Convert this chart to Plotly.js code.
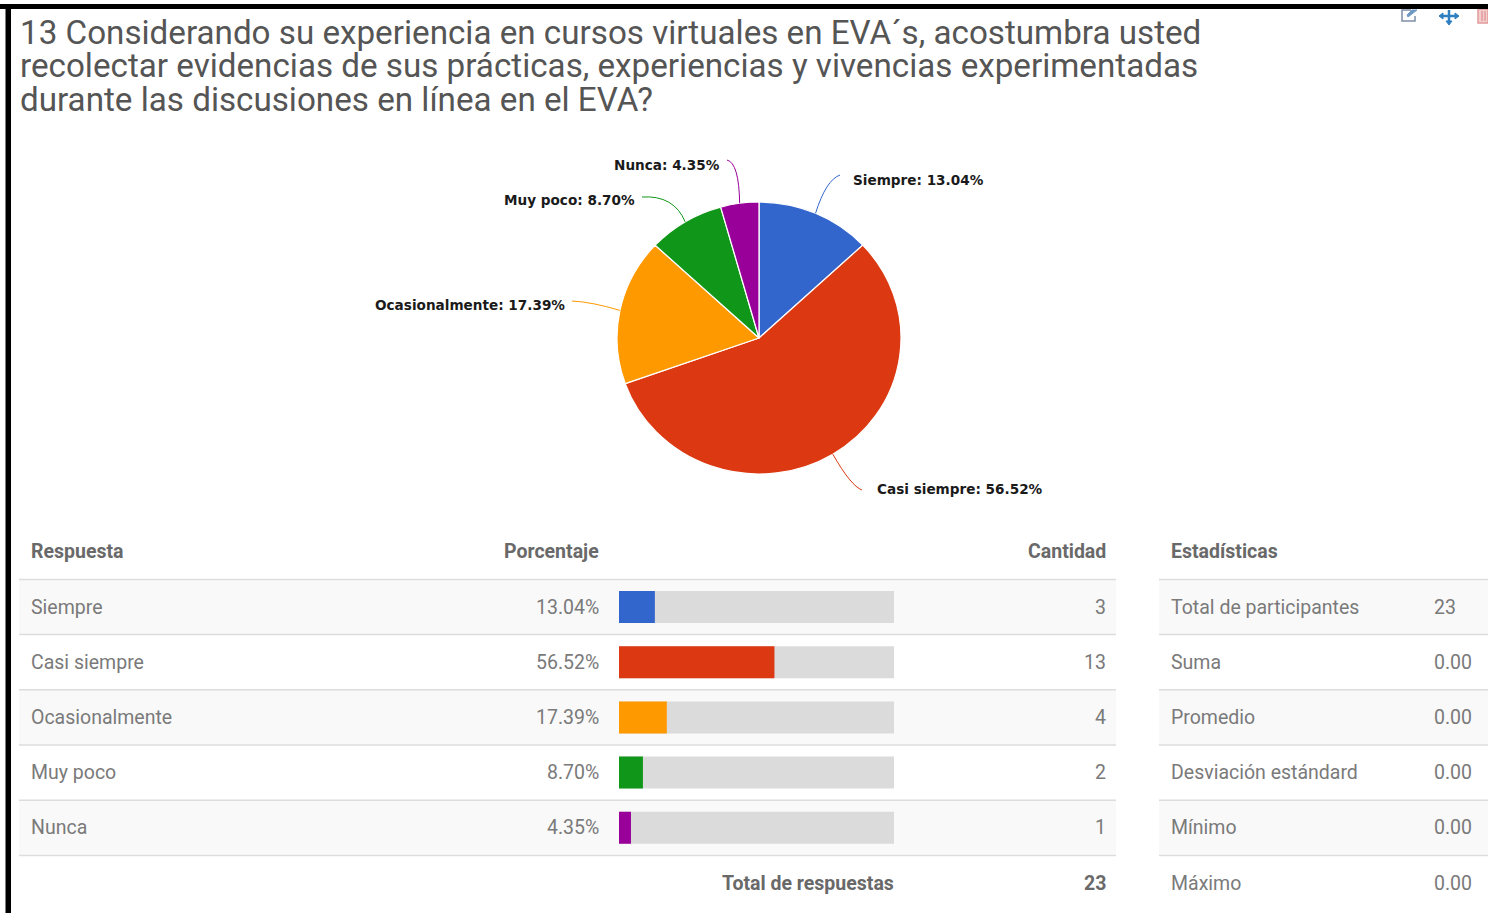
<!DOCTYPE html>
<html lang="es">
<head>
<meta charset="utf-8">
<title>Encuesta EVA</title>
<script src="https://cdn.plot.ly/plotly-3.0.1.min.js"></script>
<style>
  html, body { margin: 0; padding: 0; background: #fff; overflow: hidden; }
  #chart { width: 1488px; height: 913px; }
</style>
</head>
<body>
<div id="chart"></div>
<script>
// Survey answers
const respuestas = ["Siempre", "Casi siempre", "Ocasionalmente", "Muy poco", "Nunca"];
const porcentajes = [13.04, 56.52, 17.39, 8.70, 4.35];
const etiquetasPorcentaje = ["13.04%", "56.52%", "17.39%", "8.70%", "4.35%"];
const cantidades = [3, 13, 4, 2, 1];
const colores = ["#3366CC", "#DC3912", "#FF9900", "#109618", "#990099"];
const totalRespuestas = 23;

// Summary statistics
const estadisticas = ["Total de participantes", "Suma", "Promedio", "Desviación estándard", "Mínimo", "Máximo"];
const valoresEstadisticas = ["23", "0.00", "0.00", "0.00", "0.00", "0.00"];

const tituloLineas = [
  "13 Considerando su experiencia en cursos virtuales en EVA´s, acostumbra usted",
  "recolectar evidencias de sus prácticas, experiencias y vivencias experimentadas",
  "durante las discusiones en línea en el EVA?"
];

// Page geometry in pixels
const W = 1488, H = 913;
const X = px => px / W;
const Y = px => 1 - px / H;
const pie = { cx: 759, cy: 338, rx: 142, ry: 136 };
const tabla = { top: 579.4, fila: 55.2, encabezado: 551.5 };
const filaCentro = i => tabla.top + tabla.fila * (i + 0.5);
const barra = { x0: 619, x1: 894 };

// Callout label position and curve bend for each slice
const rotulos = [
  { x: 852, y: 180, anchor: "left",  end: [840, 175], bend: [826, 180] },
  { x: 876, y: 489, anchor: "left",  end: [862, 490], bend: [851, 486] },
  { x: 566, y: 305, anchor: "right", end: [572, 301], bend: [592, 302] },
  { x: 636, y: 200, anchor: "right", end: [642, 197], bend: [674, 195] },
  { x: 721, y: 165, anchor: "right", end: [727, 160], bend: [739, 163] }
];

const shapes = [];
const annotations = [];

function texto(t, x, y, anchor, opts) {
  const o = opts || {};
  annotations.push({
    text: t, x: X(x), y: Y(y), xref: "paper", yref: "paper",
    xanchor: anchor, yanchor: "middle", showarrow: false, borderpad: 0,
    font: {
      family: o.family || "Roboto, sans-serif",
      size: o.size || 19.5,
      color: o.color || "#7a7a7a",
      weight: o.weight || 400
    }
  });
}
function rect(x0, y0, x1, y1, fill) {
  shapes.push({ type: "rect", xref: "paper", yref: "paper", layer: "below",
    x0: X(x0), x1: X(x1), y0: Y(y0), y1: Y(y1), fillcolor: fill, line: { width: 0 } });
}
function linea(x0, x1, y) {
  shapes.push({ type: "line", xref: "paper", yref: "paper", layer: "below",
    x0: X(x0), x1: X(x1), y0: Y(y), y1: Y(y), line: { color: "#dddddd", width: 1.5 } });
}

// Striped table rows and rules
[[19, 1116], [1159, 1488]].forEach(([a, b]) => {
  respuestas.forEach((_, i) => {
    if (i % 2 === 0) rect(a, tabla.top + i * tabla.fila, b, tabla.top + (i + 1) * tabla.fila, "#f9f9f9");
  });
  for (let i = 0; i <= respuestas.length; i++) linea(a, b, tabla.top + i * tabla.fila);
});

// Answers table
const encabezado = { weight: 700, color: "#696969" };
texto("Respuesta", 29.5, tabla.encabezado, "left", encabezado);
texto("Porcentaje", 600, tabla.encabezado, "right", encabezado);
texto("Cantidad", 1107, tabla.encabezado, "right", encabezado);
respuestas.forEach((r, i) => {
  texto(r, 29.5, filaCentro(i), "left");
  texto(etiquetasPorcentaje[i], 600, filaCentro(i), "right");
  texto(String(cantidades[i]), 1107, filaCentro(i), "right");
});
texto("Total de respuestas", 895, filaCentro(5), "right", encabezado);
texto(String(totalRespuestas), 1107, filaCentro(5), "right", encabezado);

// Statistics table
texto("Estadísticas", 1169.5, tabla.encabezado, "left", encabezado);
estadisticas.forEach((e, i) => {
  texto(e, 1169.5, filaCentro(i), "left");
  texto(valoresEstadisticas[i], 1433, filaCentro(i), "left");
});

// Pie callouts: each curve starts at its slice's mid-angle on the rim
let acumulado = 0;
const sumaPct = porcentajes.reduce((a, b) => a + b, 0);
respuestas.forEach((r, i) => {
  const medio = (acumulado + porcentajes[i] / 2) / sumaPct * 2 * Math.PI;
  acumulado += porcentajes[i];
  const ax = pie.cx + pie.rx * Math.sin(medio);
  const ay = pie.cy - pie.ry * Math.cos(medio);
  const c = rotulos[i];
  shapes.push({
    type: "path", xref: "paper", yref: "paper", layer: "above",
    path: `M ${X(ax)} ${Y(ay)} Q ${X(c.bend[0])} ${Y(c.bend[1])} ${X(c.end[0])} ${Y(c.end[1])}`,
    line: { color: colores[i], width: 1 }
  });
  texto(`${r}: ${etiquetasPorcentaje[i]}`, c.x, c.y, c.anchor,
    { family: "'DejaVu Sans', sans-serif", size: 13.6, color: "#1a1a1a", weight: 700 });
});

// Outer frame
shapes.push({ type: "rect", xref: "paper", yref: "paper", layer: "above",
  x0: 0, x1: 1, y0: Y(9), y1: Y(4), fillcolor: "#000", line: { width: 0 } });
shapes.push({ type: "rect", xref: "paper", yref: "paper", layer: "above",
  x0: X(5.5), x1: X(11), y0: 0, y1: Y(4), fillcolor: "#000", line: { width: 0 } });

// Toolbar icons: edit, move, delete
function icono(path, color, fill, ancho) {
  shapes.push({ type: "path", xref: "paper", yref: "paper", layer: "below",
    path: path.replace(/(-?\d+(?:\.\d+)?),(-?\d+(?:\.\d+)?)/g, (_, a, b) => `${X(+a)} ${Y(+b)}`),
    fillcolor: fill, line: { color, width: ancho } });
}
icono("M 1411,10 L 1402,10 L 1402,21 L 1415,21 L 1415,16", "#7d8fa8", "rgba(0,0,0,0)", 1.5);
icono("M 1408,17 L 1417,10 L 1412,10 L 1407,15 Z", "#6f9ac4", "#6f9ac4", 1);
icono("M 1442,16 L 1456,16 M 1449,10 L 1449,22", "#2f7fc1", "rgba(0,0,0,0)", 2.5);
icono("M 1439,16 L 1443,13 L 1443,19 Z M 1459,16 L 1455,13 L 1455,19 Z M 1449,25 L 1446,21 L 1452,21 Z", "#2f7fc1", "#2f7fc1", 1);
icono("M 1478,9 L 1488,9 L 1488,23 L 1478,23 Z", "#e39a9a", "#f4cfcf", 1.5);
icono("M 1482,11 L 1482,21 M 1485,11 L 1485,21", "#d98080", "rgba(0,0,0,0)", 1);

const trazas = [
  {
    type: "pie", labels: respuestas, values: porcentajes, sort: false,
    direction: "clockwise", rotation: 0, textinfo: "none",
    marker: { colors: colores, line: { color: "#ffffff", width: 1.2 } },
    domain: {
      x: [X(pie.cx - pie.ry), X(pie.cx + pie.ry)],
      y: [Y(pie.cy + pie.ry), Y(pie.cy - pie.ry)]
    },
    showlegend: false, hoverinfo: "label+percent"
  },
  {
    type: "bar", orientation: "h", y: respuestas, x: respuestas.map(() => 100),
    marker: { color: "#dbdbdb" }, width: 0.58, hoverinfo: "skip", showlegend: false
  },
  {
    type: "bar", orientation: "h", y: respuestas, x: porcentajes,
    marker: { color: colores }, width: 0.58, hoverinfo: "y+x", showlegend: false
  }
];

const layout = {
  width: W, height: H,
  margin: { l: 0, r: 0, t: 0, b: 0 },
  paper_bgcolor: "#ffffff", plot_bgcolor: "rgba(0,0,0,0)",
  barmode: "overlay", showlegend: false,
  title: {
    text: tituloLineas.join("<br>"),
    x: X(20), xanchor: "left", xref: "paper",
    y: Y(18), yanchor: "top", yref: "paper",
    font: { family: "Roboto, sans-serif", size: 33.2, color: "#555555" }
  },
  xaxis: { domain: [X(barra.x0), X(barra.x1)], range: [0, 100], visible: false, fixedrange: true },
  yaxis: {
    domain: [Y(tabla.top + 5 * tabla.fila), Y(tabla.top)],
    type: "category", categoryorder: "array", categoryarray: respuestas,
    range: [4.5, -0.5], visible: false, fixedrange: true
  },
  shapes, annotations
};

Plotly.newPlot("chart", trazas, layout, { displayModeBar: false, responsive: false }).then(gd => {
  // The pie is slightly wider than tall
  const capa = gd.querySelector(".pielayer");
  if (capa) {
    capa.setAttribute("transform",
      `translate(${pie.cx} 0) scale(${pie.rx / pie.ry} 1) translate(${-pie.cx} 0)`);
  }
  // Tighter leading for the three title lines
  const base = [43.5, 77, 110.5];
  const t = gd.querySelector(".gtitle");
  if (t) {
    t.removeAttribute("transform");
    t.setAttribute("y", base[0]);
    t.setAttribute("dy", "0");
    t.querySelectorAll("tspan").forEach(l => l.setAttribute("dy", "0"));
    t.querySelectorAll("tspan.line").forEach((l, i) => l.setAttribute("y", base[i]));
  }
});
</script>
</body>
</html>
